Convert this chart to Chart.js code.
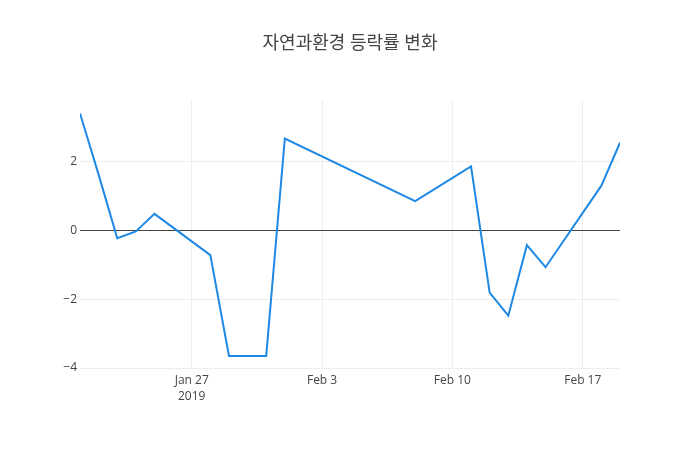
<!DOCTYPE html>
<html>
<head>
<meta charset="utf-8">
<script src="https://cdn.jsdelivr.net/npm/chart.js@4/dist/chart.umd.min.js"></script>
<style>
  html, body { margin: 0; padding: 0; background: #fff; }
  #wrap { width: 700px; height: 450px; }
</style>
</head>
<body>
<div id="wrap"><canvas id="c" width="700" height="450"></canvas></div>
<script>
// ---- data ----
const dates = ["2019-01-21","2019-01-22","2019-01-23","2019-01-24","2019-01-25",
               "2019-01-28","2019-01-29","2019-01-30","2019-01-31","2019-02-01",
               "2019-02-08","2019-02-11","2019-02-12","2019-02-13","2019-02-14",
               "2019-02-15","2019-02-18","2019-02-19"];
const values = [3.40, 1.62, -0.23, -0.03, 0.48,
                -0.72, -3.65, -3.65, -3.65, 2.67,
                0.85, 1.86, -1.81, -2.48, -0.43,
                -1.07, 1.30, 2.55];
const tickDates = ["2019-01-27","2019-02-03","2019-02-10","2019-02-17"];
const tickLabels = [["Jan 27","2019"], "Feb 3", "Feb 10", "Feb 17"];
const yTicks = [-4, -2, 0, 2];
const titleText = "자연과환경 등락률 변화";

// ---- helpers ----
const DAY = 86400000;
const toDay = s => Math.round(Date.UTC(+s.slice(0,4), +s.slice(5,7)-1, +s.slice(8,10)) / DAY);
const xs = dates.map(toDay);
const tickXs = tickDates.map(toDay);
const points = xs.map((x, i) => ({ x: x, y: values[i] }));

const FONT = "'Open Sans', 'Noto Sans CJK KR', sans-serif";

// title centred on the whole canvas (like the reference)
const pageTitle = {
  id: 'pageTitle',
  afterDraw(chart) {
    const ctx = chart.ctx;
    ctx.save();
    ctx.font = "18px 'Open Sans', 'Noto Sans CJK KR', sans-serif";
    ctx.fillStyle = '#444';
    ctx.textAlign = 'center';
    ctx.textBaseline = 'middle';
    ctx.fillText(titleText, chart.width / 2, 44);
    ctx.restore();
  }
};

new Chart(document.getElementById('c'), {
  type: 'line',
  data: {
    datasets: [{
      data: points,
      borderColor: '#1E88E5',
      borderWidth: 2,
      pointRadius: 0,
      tension: 0,
      fill: false
    }]
  },
  plugins: [pageTitle],
  options: {
    responsive: false,
    animation: false,
    layout: { padding: { left: 0, right: 80, top: 100, bottom: 0 } },
    plugins: {
      legend: { display: false },
      tooltip: { enabled: false },
      title: { display: false }
    },
    scales: {
      x: {
        type: 'linear',
        min: xs[0],
        max: xs[xs.length - 1],
        border: { display: false },
        grid: { color: '#eeeeee', lineWidth: 1, drawTicks: false },
        afterBuildTicks: s => { s.ticks = tickXs.map(v => ({ value: v })); },
        afterFit: s => { s.height = 82; },
        ticks: {
          color: '#444',
          padding: 5,
          maxRotation: 0,
          autoSkip: false,
          font: { family: FONT, size: 12, lineHeight: 1.33 },
          callback: (v) => { const i = tickXs.indexOf(v); return i >= 0 ? tickLabels[i] : ''; }
        }
      },
      y: {
        min: -4.0,
        max: 3.79,
        border: { display: false },
        afterBuildTicks: s => { s.ticks = yTicks.map(v => ({ value: v })); },
        afterFit: s => { s.width = 80; },
        grid: {
          color: ctx => (ctx.tick && ctx.tick.value === 0) ? '#444' : '#eeeeee',
          lineWidth: 1,
          drawTicks: false
        },
        ticks: {
          color: '#444',
          padding: 3,
          font: { family: FONT, size: 12 },
          callback: v => String(v).replace('-', '\u2212')
        }
      }
    }
  }
});
</script>
</body>
</html>
